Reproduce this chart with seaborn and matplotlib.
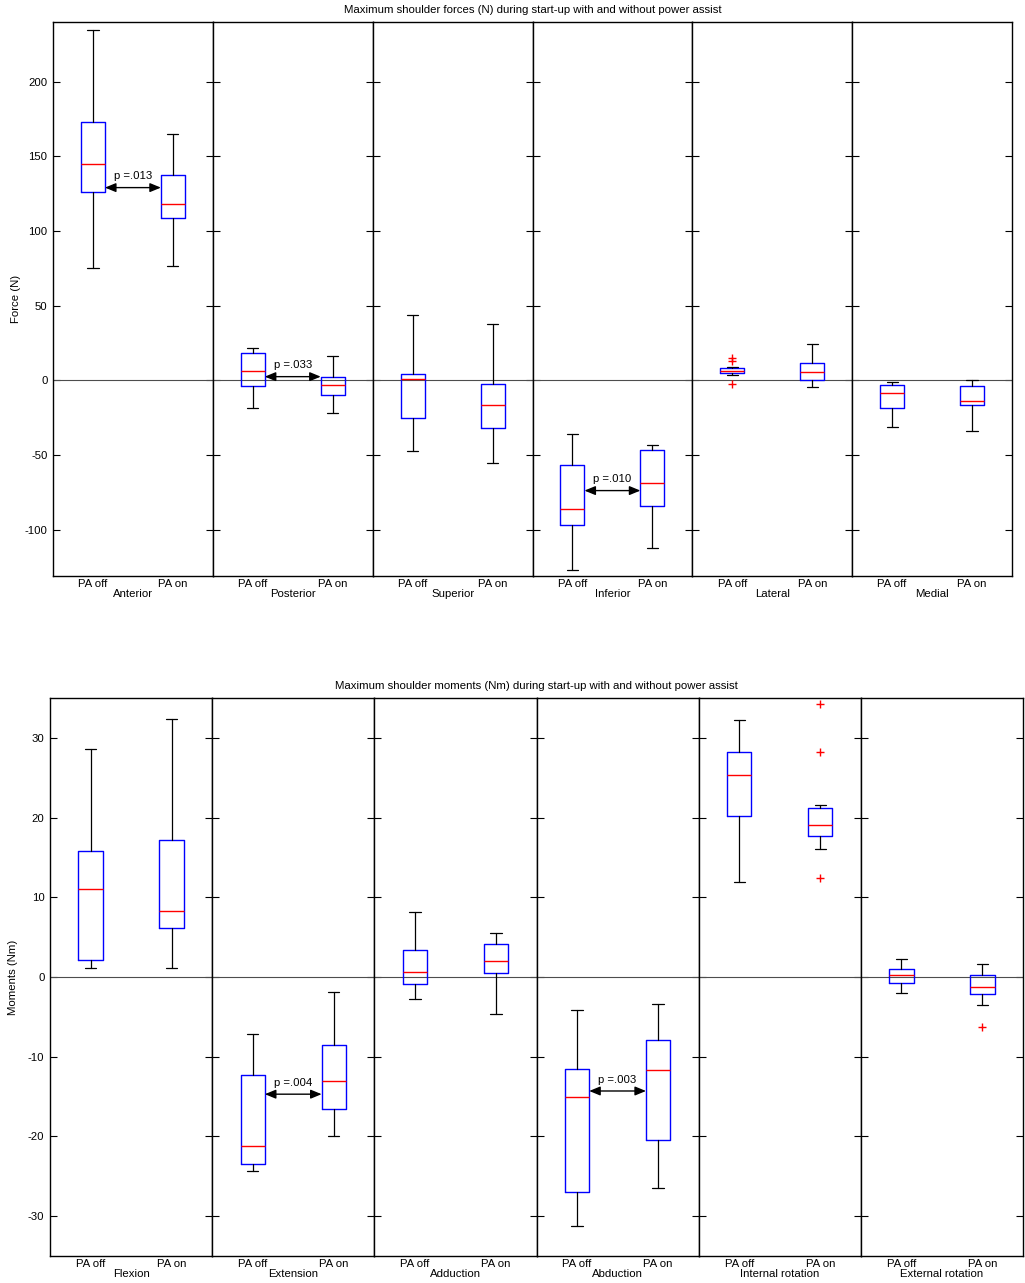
import matplotlib
matplotlib.use("Agg")
import matplotlib.pyplot as plt
import seaborn as sns

# ---------------------------------------------------------------- data
conditions = ["PA off", "PA on"]

# Shoulder forces (N): five-number summaries, one [PA off, PA on] pair per direction
force_groups = ["Anterior", "Posterior", "Superior", "Inferior", "Lateral", "Medial"]
force_whislo = [[75.3, 76.4], [-18.5, -22.0], [-47.3, -55.5], [-126.7, -112.4], [3.8, -4.4], [-31.1, -34.2]]
force_q1 = [[126.4, 108.7], [-3.8, -9.6], [-25.3, -32.0], [-96.7, -84.2], [5.1, 0.4], [-18.7, -16.7]]
force_med = [[144.7, 118.2], [6.2, -3.1], [0.9, -16.2], [-86.0, -68.4], [6.4, 5.8], [-8.4, -13.6]]
force_q3 = [[173.3, 137.7], [18.4, 2.0], [4.2, -2.2], [-56.7, -46.4], [8.0, 11.5], [-3.3, -3.8]]
force_whishi = [[234.7, 165.3], [21.5, 16.2], [44.0, 38.0], [-36.0, -43.1], [8.9, 24.4], [-0.9, 0.4]]
force_fliers = [[[], []], [[], []], [[], []], [[], []], [[15.0, 13.2, -2.5], []], [[], []]]
# paired comparisons: group, p-value text, height of the connecting arrow
force_sig = [("Anterior", ".013", 129.1), ("Posterior", ".033", 2.5), ("Inferior", ".010", -73.8)]

# Shoulder moments (Nm)
moment_groups = ["Flexion", "Extension", "Adduction", "Abduction", "Internal rotation", "External rotation"]
moment_whislo = [[1.1, 1.1], [-24.3, -19.9], [-2.8, -4.6], [-31.2, -26.5], [11.9, 16.1], [-2.0, -3.5]]
moment_q1 = [[2.1, 6.1], [-23.5, -16.6], [-0.9, 0.55], [-27.0, -20.4], [20.2, 17.7], [-0.7, -2.1]]
moment_med = [[11.0, 8.3], [-21.2, -13.0], [0.6, 2.0], [-15.0, -11.7], [25.3, 19.1], [0.2, -1.3]]
moment_q3 = [[15.8, 17.2], [-12.3, -8.5], [3.4, 4.1], [-11.6, -7.9], [28.2, 21.2], [1.0, 0.3]]
moment_whishi = [[28.6, 32.4], [-7.2, -1.9], [8.2, 5.5], [-4.2, -3.4], [32.2, 21.6], [2.2, 1.6]]
moment_fliers = [[[], []], [[], []], [[], []], [[], []], [[], [34.3, 28.2, 12.4]], [[], [-6.3]]]
moment_sig = [("Extension", ".004", -14.7), ("Abduction", ".003", -14.3)]

# ---------------------------------------------------------------- style
sns.set_theme(style="white")
plt.rcParams["font.family"] = ["Liberation Sans", "DejaVu Sans"]
plt.rcParams.update({
    "axes.edgecolor": "black",
    "axes.linewidth": 1.0,
    "axes.unicode_minus": False,
    "text.color": "black",
    "axes.labelcolor": "black",
    "xtick.color": "black",
    "ytick.color": "black",
    "font.size": 8.2,
    "xtick.labelsize": 8.2,
    "ytick.labelsize": 8.2,
    "axes.labelsize": 8.2,
})

W, H = 1025, 1283
fig = plt.figure(figsize=(W / 100, H / 100), dpi=100)

FS = 8.2


def draw_panel(rect, groups, whislo, q1, med, q3, whishi, fliers, sig,
               ylim, yticks, ylabel, title):
    left, top, right, bottom = rect
    gw = (right - left) / len(groups)
    sig_map = {g: (p, y) for g, p, y in sig}
    for i, g in enumerate(groups):
        ax = fig.add_axes([(left + i * gw) / W, 1 - bottom / H, gw / W, (bottom - top) / H])
        ax.axhline(0, color="0.3", lw=0.8, zorder=1)
        stats = [dict(whislo=whislo[i][j], q1=q1[i][j], med=med[i][j],
                      q3=q3[i][j], whishi=whishi[i][j], fliers=[], label=c)
                 for j, c in enumerate(conditions)]
        ax.bxp(stats, positions=[1, 2], widths=0.3, capwidths=0.14,
               showfliers=False, manage_ticks=False,
               boxprops=dict(color="blue", lw=1.0),
               medianprops=dict(color="red", lw=1.0),
               whiskerprops=dict(color="black", lw=0.9),
               capprops=dict(color="black", lw=0.9), zorder=2)
        fx, fy = [], []
        for j in range(2):
            for v in fliers[i][j]:
                fx.append(j + 1)
                fy.append(v)
        if fy:
            sns.scatterplot(x=fx, y=fy, marker="+", color="red", s=32,
                            linewidth=1.0, ax=ax, zorder=3, legend=False)
        if g in sig_map:
            p, y = sig_map[g]
            ax.annotate("", xy=(1.85, y), xytext=(1.15, y),
                        arrowprops=dict(arrowstyle="<|-|>,head_length=0.8,head_width=0.33",
                                        color="black", lw=1.0, shrinkA=0, shrinkB=0),
                        fontsize=FS, zorder=4)
            ax.annotate("p =" + p, xy=(1.5, y), xytext=(0, 4.5),
                        textcoords="offset points", ha="center", va="bottom",
                        fontsize=FS, zorder=4)
        ax.set_xlim(0.5, 2.5)
        ax.set_ylim(*ylim)
        ax.set_yticks(yticks)
        ax.set_xticks([1, 2])
        ax.set_xticklabels(conditions)
        ax.tick_params(axis="x", length=0, pad=2.0, labelsize=FS)
        ax.tick_params(axis="y", direction="in", left=True, right=True,
                       labelleft=(i == 0), length=5, width=0.8, pad=4,
                       labelsize=FS)
        ax.set_xlabel(g, labelpad=0.5, fontsize=FS)
        ax.set_ylabel("")
        for s in ax.spines.values():
            s.set_visible(True)
            s.set_color("black")
            s.set_linewidth(1.0)
    cx = (left + right) / 2
    fig.text(cx / W, 1 - (top - 12) / H, title, ha="center", va="center", fontsize=FS)
    fig.text((left - 37) / W, 1 - ((top + bottom) / 2) / H, ylabel, rotation=90,
             ha="center", va="center", fontsize=FS)


draw_panel((53, 22, 1012, 576), force_groups, force_whislo, force_q1, force_med,
           force_q3, force_whishi, force_fliers, force_sig,
           (-131, 240), [-100, -50, 0, 50, 100, 150, 200], "Force (N)",
           "Maximum shoulder forces (N) during start-up with and without power assist")

draw_panel((50, 698, 1023, 1256), moment_groups, moment_whislo, moment_q1, moment_med,
           moment_q3, moment_whishi, moment_fliers, moment_sig,
           (-35, 35), [-30, -20, -10, 0, 10, 20, 30], "Moments (Nm)",
           "Maximum shoulder moments (Nm) during start-up with and without power assist")

fig.savefig("out.png", dpi=100)
